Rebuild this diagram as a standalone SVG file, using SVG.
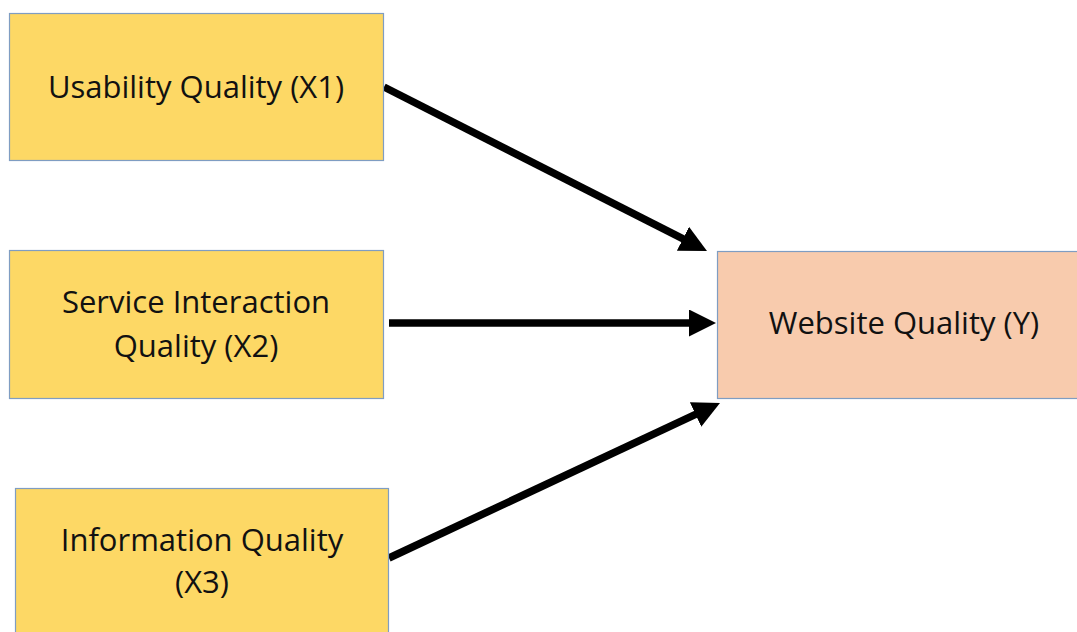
<svg xmlns="http://www.w3.org/2000/svg" width="1077" height="632" viewBox="0 0 1077 632">
<style>
.x{fill:#FDD865;stroke:#7F9DC2;stroke-width:1.2}
.y{fill:#F8CBAD;stroke:#7F9DC2;stroke-width:1.2}
.t{font-family:"Open Sans","Liberation Sans",sans-serif;font-size:31px;fill:#111;text-anchor:middle}
.c{stroke:#000;stroke-width:7.5;fill:none;marker-end:url(#ah)}
</style>
<defs>
<marker id="ah" markerUnits="userSpaceOnUse" viewBox="0 0 27 27" refX="13" refY="13.5" markerWidth="27" markerHeight="27" orient="auto">
<path d="M0,0 L27,13.5 L0,27 Z" fill="#000"/>
</marker>
</defs>
<rect width="1077" height="632" fill="#fff"/>
<g id="connectors">
<line class="c" x1="384" y1="87" x2="694.5" y2="244.7"/>
<line class="c" x1="389" y1="323" x2="702" y2="323"/>
<line class="c" x1="389" y1="558" x2="707.3" y2="408.9"/>
</g>
<g id="x1">
<rect class="x" x="9.5" y="13.5" width="374" height="147"/>
<text class="t" x="196" y="98">Usability Quality (X1)</text>
</g>
<g id="x2">
<rect class="x" x="9.5" y="250.5" width="374" height="148"/>
<text class="t" x="196" y="313">Service Interaction</text>
<text class="t" x="196" y="357">Quality (X2)</text>
</g>
<g id="x3">
<rect class="x" x="15.5" y="488.5" width="373" height="150"/>
<text class="t" x="202" y="551">Information Quality</text>
<text class="t" x="202" y="593">(X3)</text>
</g>
<g id="y">
<rect class="y" x="717.5" y="251.5" width="365" height="147"/>
<text class="t" x="904" y="334">Website Quality (Y)</text>
</g>
</svg>
